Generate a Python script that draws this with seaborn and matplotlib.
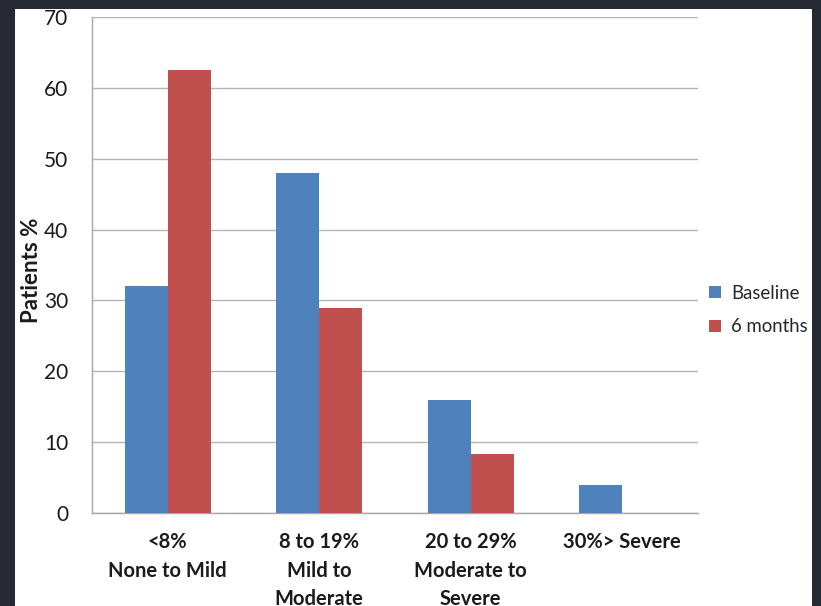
import matplotlib
matplotlib.use("Agg")
import matplotlib.pyplot as plt
import seaborn as sns
import pandas as pd
from matplotlib.patches import Rectangle

# Data
categories = ["<8%\nNone to Mild", "8 to 19%\nMild to\nModerate",
              "20 to 29%\nModerate to\nSevere", "30%> Severe"]
baseline = [32, 48, 16, 4]
six_months = [62.5, 29, 8.3, 0]
series_names = ["Baseline", "6 months"]
colors = ["#4f81bd", "#c0504d"]

df = pd.DataFrame({
    "category": categories * 2,
    "value": baseline + six_months,
    "series": [series_names[0]] * 4 + [series_names[1]] * 4,
})

sns.set_style("white")
plt.rcParams["font.family"] = ["Lato", "DejaVu Sans"]

fig = plt.figure(figsize=(8.21, 6.06), dpi=100)
fig.patch.set_facecolor("#262a32")
fig.patches.append(Rectangle((15 / 821, 0), (812 - 15) / 821, (606 - 9) / 606,
                             transform=fig.transFigure, facecolor="white",
                             edgecolor="none", zorder=-10))

ax = fig.add_axes([92 / 821, 93 / 606, 606 / 821, 496 / 606])
ax.set_facecolor("none")

sns.barplot(data=df, x="category", y="value", hue="series", palette=colors,
            width=0.57, saturation=1, linewidth=0, ax=ax, zorder=3)

ax.set_ylim(0, 70)
ax.set_yticks(range(0, 71, 10))
ax.set_xlim(-0.5, 3.5)
ax.yaxis.grid(True, color="#b5b5b5", linewidth=1, zorder=0)
ax.set_axisbelow(True)

for s in ["top", "right"]:
    ax.spines[s].set_visible(False)
for s in ["left", "bottom"]:
    ax.spines[s].set_color("#a6a6a6")
    ax.spines[s].set_linewidth(1)

ax.set_xticks([-0.5, 0.5, 1.5, 2.5, 3.5], minor=False)
ax.set_xticklabels([])
ax.set_xticks([0, 1, 2, 3], minor=True)
ax.set_xticklabels(categories, minor=True, fontsize=14.5, fontweight="bold",
                   color="#1a1a1a", linespacing=1.52, va="top")
ax.tick_params(axis="x", which="major", length=6, color="#a6a6a6", direction="out")
ax.tick_params(axis="x", which="minor", length=0, pad=14)
ax.tick_params(axis="y", length=5, color="#a6a6a6", direction="out",
               labelsize=15, labelcolor="#1a1a1a", pad=12)

ax.set_xlabel("")
ax.set_ylabel("Patients %", fontsize=16, fontweight="bold", color="#1a1a1a")
ax.yaxis.set_label_coords((42 - 92) / 606, (513 - 270) / 496)

ax.legend(loc="center left", bbox_to_anchor=(702 / 821, 296 / 606),
          bbox_transform=fig.transFigure, frameon=False, fontsize=13.4,
          handlelength=0.6, handleheight=0.6, handletextpad=0.55, labelspacing=0.9,
          borderaxespad=0)

fig.savefig("out.png", dpi=100, facecolor=fig.get_facecolor())
